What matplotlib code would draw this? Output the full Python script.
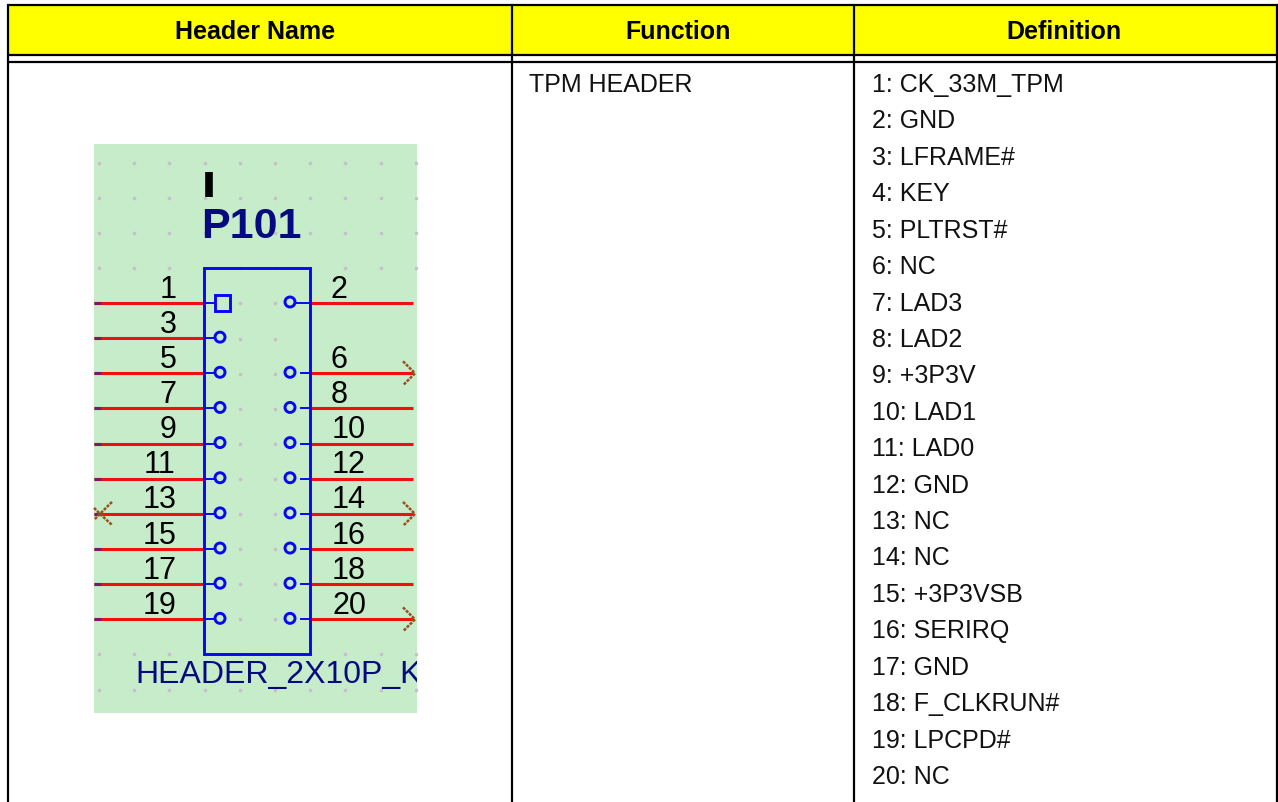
import matplotlib
matplotlib.use('Agg')
import matplotlib.pyplot as plt
from matplotlib.patches import Rectangle, Circle

headers = ['Header Name', 'Function', 'Definition']
function_name = 'TPM HEADER'
definitions = ['1: CK_33M_TPM', '2: GND', '3: LFRAME#', '4: KEY', '5: PLTRST#',
               '6: NC', '7: LAD3', '8: LAD2', '9: +3P3V', '10: LAD1', '11: LAD0',
               '12: GND', '13: NC', '14: NC', '15: +3P3VSB', '16: SERIRQ',
               '17: GND', '18: F_CLKRUN#', '19: LPCPD#', '20: NC']

part_name = 'P101'
part_value = 'HEADER_2X10P_K'
# odd pins sit on the left, even on the right; pin 4 is the missing key pin
left_pins = [1, 3, 5, 7, 9, 11, 13, 15, 17, 19]
right_pins = [2, 4, 6, 8, 10, 12, 14, 16, 18, 20]
missing_pins = [4]
arrow_pins = [6, 14, 20]
cross_pins = [13]

W, H = 1278, 802
RED = '#f01010'
BLUE = '#0808f0'
NAVY = '#050a80'
BROWN = '#96501e'
TXT = '#111111'

plt.rcParams['font.family'] = ['Liberation Sans', 'DejaVu Sans']
fig = plt.figure(figsize=(W / 100, H / 100), dpi=100)
ax = fig.add_axes([0, 0, 1, 1])
ax.set_xlim(0, W)
ax.set_ylim(H, 0)
ax.axis('off')

# table
col_x = [7.5, 512, 854, 1277]
header_x = [255, 678.5, 1064]
ax.add_patch(Rectangle((col_x[0], 5), col_x[3] - col_x[0], 49.5, fc='#ffff00', ec='none'))
for y in [5, 54.5, 61.8]:
    ax.plot([col_x[0] - 1, col_x[3] + 1], [y, y], color='black', lw=1.6, solid_capstyle='butt')
for x in col_x:
    ax.plot([x, x], [4, H], color='black', lw=1.6, solid_capstyle='butt')

for hx, h in zip(header_x, headers):
    ax.text(hx, 39, h, ha='center', va='baseline', fontsize=18, fontweight='bold', color='black')

ax.text(529, 92, function_name, ha='left', va='baseline', fontsize=18, color=TXT)
for i, d in enumerate(definitions):
    ax.text(872, 92 + i * 36.42, d, ha='left', va='baseline', fontsize=18, color=TXT)

# schematic symbol
green = Rectangle((94, 144), 323, 569, fc='#c6ecca', ec='none', zorder=1)
ax.add_patch(green)

grid_x = [99 + 35.2 * i for i in range(10)]
grid_y = [163 + 35.1 * i for i in range(16)]
dx, dy = [], []
for gy in grid_y:
    for gx in grid_x:
        inside = 204 < gx < 310 and 268 < gy < 650
        if inside and not (230 < gx < 280 and gy < 640):
            continue
        if 280 < gy < 640 and not inside:
            continue
        dx.append(gx)
        dy.append(gy)
ax.scatter(dx, dy, s=7, marker='o', color='#c9bfcb', linewidths=0, zorder=2)

ax.add_patch(Rectangle((204, 268), 106, 386, fc='none', ec=BLUE, lw=2.1, zorder=4))

ax.plot([209, 209], [172, 197], color='black', lw=5.5, solid_capstyle='butt', zorder=5)
ax.text(251, 238, part_name, ha='center', va='baseline', fontsize=31, fontweight='bold',
        color=NAVY, zorder=5)
value_text = ax.text(135, 683, part_value, ha='left', va='baseline', fontsize=23, color=NAVY, zorder=5)
value_text.set_clip_path(green)
value_text.set_clip_on(True)

for row, pin in enumerate(left_pins):
    y = 303 + row * 35.15
    ax.plot([94, 204], [y, y], color=RED, lw=2.2, solid_capstyle='butt', zorder=3)
    ax.plot([94, 101], [y, y], color='#7a1a60', lw=2.2, solid_capstyle='butt', zorder=3)
    ax.plot([204, 214], [y, y], color=BLUE, lw=1.4, zorder=3)
    if pin == 1:
        ax.add_patch(Rectangle((214.5, y - 8), 15, 16, fc='none', ec=BLUE, lw=2.1, zorder=4))
    else:
        ax.add_patch(Circle((220, y - 1), 5, fc='none', ec=BLUE, lw=2.1, zorder=4))
    xt = 168 if pin < 10 else 160
    ax.text(xt, y - 5.5, str(pin), ha='center', va='baseline', fontsize=22,
            color='black', zorder=5)
    if pin in cross_pins:
        ax.plot([112, 100, 112], [y - 12, y, y + 11], color=BROWN, lw=1.8, ls=(0, (1.2, 0.5)), zorder=5)
        ax.plot([94, 100, 94], [y - 6, y, y + 6], color=BROWN, lw=1.8, ls=(0, (1.2, 0.5)), zorder=5)

for row, pin in enumerate(right_pins):
    if pin in missing_pins:
        continue
    y = 303 + row * 35.15
    ax.plot([310, 413], [y, y], color=RED, lw=2.2, solid_capstyle='butt', zorder=3)
    ax.add_patch(Circle((290, y - 1), 5, fc='none', ec=BLUE, lw=2.1, zorder=4))
    ax.plot([295 if pin == 2 else 301, 310], [y, y], color=BLUE, lw=1.4, zorder=3)
    xt = 339 if pin < 10 else 349
    ax.text(xt, y - 5.5, str(pin), ha='center', va='baseline', fontsize=22,
            color='black', zorder=5)
    if pin in arrow_pins:
        ax.plot([403, 415, 403], [y - 12, y, y + 12], color=BROWN, lw=1.8, ls=(0, (1.2, 0.5)), zorder=5)

fig.savefig('out.png', dpi=100)
